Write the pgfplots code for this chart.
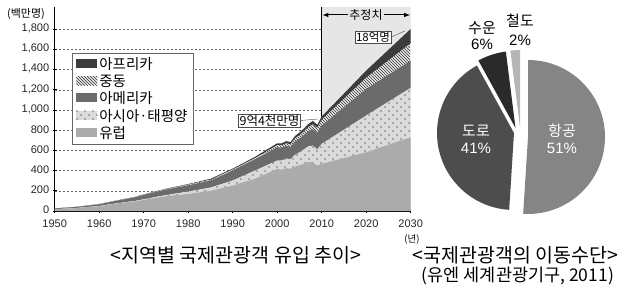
\documentclass[border=0pt]{standalone}
\usepackage{fontspec}
\setmainfont{Liberation Sans}
\newfontfamily\kr{Noto Sans CJK KR}
\usepackage{pgfplots}
\usepackage{pgfplotstable}
\pgfplotsset{compat=1.18}
\usetikzlibrary{patterns}

\pgfdeclarepatternformonly{sparsedots}{\pgfqpoint{-1pt}{-1pt}}{\pgfqpoint{9pt}{9pt}}{\pgfqpoint{8pt}{8pt}}{%
  \pgfpathcircle{\pgfqpoint{1pt}{1pt}}{0.6pt}%
  \pgfpathcircle{\pgfqpoint{5pt}{5pt}}{0.6pt}%
  \pgfusepath{fill}}

\definecolor{eu}{HTML}{ABABAB}
\definecolor{ap}{HTML}{DADADA}
\definecolor{am}{HTML}{6B6B6B}
\definecolor{me}{HTML}{E8E8E8}
\definecolor{af}{HTML}{3C3C3C}
\definecolor{est}{HTML}{E6E6E6}
\definecolor{air}{HTML}{858585}
\definecolor{road}{HTML}{4D4D4D}
\definecolor{sea}{HTML}{2A2A2A}
\definecolor{rail}{HTML}{B5B5B5}

\pgfplotstableread{
year eu ap am me af
1950 17 1 7 0.5 0.5
1955 29 1 11 0.5 0.5
1960 48 2 17 1 1
1965 80 3 28 1 2
1968 95 4 36 2 2
1970 110 6 44 2 3
1975 148 10 55 4 4
1980 170 22 62 7 6
1985 200 32 70 8 9
1990 252 50 99 9 10
1995 320 80 110 12 14
2000 418 82 132 20 19
2001 410 90 128 22 20
2002 425 95 125 25 22
2003 420 92 122 26 23
2004 440 115 133 30 25
2005 455 125 138 32 27
2006 470 140 142 36 29
2007 485 155 150 40 31
2008 483 165 163 48 34
2009 450 160 163 48 33
2010 467 198 181 57 33
2020 582 364 264 109 72
2030 731 489 270 171 143
}\datatable

\begin{document}
\begin{tikzpicture}
\begin{axis}[
  set layers,
  at={(54.7pt,81pt)}, anchor=south west,
  scale only axis, width=356pt, height=203.9pt,
  xmin=1950, xmax=2030, ymin=0, ymax=2020,
  axis x line*=bottom, axis y line*=left,
  axis line style={-, line width=1.2pt},
  xtick={1950,1960,...,2030}, ytick={0,200,...,1800},
  xticklabel style={/pgf/number format/1000 sep={}, yshift=-3pt},
  yticklabel style={/pgf/number format/1000 sep={,}, yshift=1pt},
  /pgf/number format/assume math mode=true,
  tick label style={font=\fontsize{11}{13}\selectfont, text=black!85},
  ymajorgrids, grid style={dash pattern=on 2pt off 2pt, black!60, line width=0.6pt},
  tick style={black, line width=0.8pt}, major tick length=4pt, tick align=center,
  stack plots=y,
  reverse legend,
  legend cell align=left,
  legend style={at={(0.049,0.775)}, anchor=north west, draw=black!60, fill=white,
    font=\kr\fontsize{14.5}{15.5}\selectfont, row sep=0pt, inner xsep=4pt, inner ysep=2pt},
  legend image code/.code={\draw[#1, draw=none] (0pt,-4pt) rectangle (21pt,5pt);},
]
\addplot[fill=eu, draw=none] table[x=year,y=eu]{\datatable} \closedcycle;
\addlegendentry{유럽}
\addplot[fill=ap, draw=none, postaction={pattern=sparsedots}] table[x=year,y=ap]{\datatable} \closedcycle;
\addlegendentry{아시아·태평양}
\addplot[fill=am, draw=none] table[x=year,y=am]{\datatable} \closedcycle;
\addlegendentry{아메리카}
\addplot[fill=me, draw=none, postaction={pattern=north west lines, pattern color=black!80}] table[x=year,y=me]{\datatable} \closedcycle;
\addlegendentry{중동}
\addplot[fill=af, draw=none] table[x=year,y=af]{\datatable} \closedcycle;
\addlegendentry{아프리카}
\fill[on layer=axis background, est] (axis cs:2010,0) rectangle (axis cs:2030,2020);
\draw[black, line width=0.8pt] (axis cs:2010,0) -- (axis cs:2010,2020);
\end{axis}
\begin{scope}[x=1pt,y=1pt]
% annotations
\node[font=\kr\fontsize{12}{14}\selectfont] at (366,277) {추정치};
\draw[-latex, line width=1pt] (348,277) -- (322.5,277);
\draw[-latex, line width=1pt] (384,277) -- (410,277);
\node[draw=black!70, fill=white, inner sep=1pt, font=\kr\fontsize{11.5}{13}\selectfont] (a) at (373,255) {18억명};
\draw[black!70] (a.east) -- (405,261);
\node[draw=black!70, fill=white, inner sep=1pt, font=\kr\fontsize{12.5}{14}\selectfont] (b) at (269.5,171.5) {9억4천만명};
\draw[black!70] (b.east) -- (318,173);
\node[font=\kr\fontsize{11}{13}\selectfont] at (26,278) {(백만명)};
\node[font=\kr\fontsize{9.5}{11}\selectfont] at (412,52) {(년)};
% pie
\def\R{77}
\fill[air]  (528,155) -- ++(90:\R) arc[start angle=90, end angle=-93.6, radius=\R] -- cycle;
\fill[road] (514,159) -- ++(-93.6:\R) arc[start angle=-93.6, end angle=-241.2, radius=\R] -- cycle;
\fill[sea]  (515.5,164) -- ++(-241.2:\R) arc[start angle=-241.2, end angle=-262.8, radius=\R] -- cycle;
\fill[rail] (520,165) -- ++(-262.8:\R) arc[start angle=-262.8, end angle=-270, radius=\R] -- cycle;
\node[white, font=\kr\fontsize{15}{17}\selectfont] at (562,161) {항공};
\node[white, font=\fontsize{15}{17}\selectfont] at (562,144) {51\%};
\node[white, font=\kr\fontsize{15}{17}\selectfont] at (476,161) {도로};
\node[white, font=\fontsize{15}{17}\selectfont] at (476,144) {41\%};
\node[font=\kr\fontsize{15}{17}\selectfont] at (482,264) {수운};
\node[font=\fontsize{15}{17}\selectfont] at (482,248) {6\%};
\node[font=\kr\fontsize{15}{17}\selectfont] at (520,271) {철도};
\node[font=\fontsize{15}{17}\selectfont] at (520,252) {2\%};
% captions
\node[font=\kr\fontsize{19.5}{22}\selectfont] at (236,37) {<지역별 국제관광객 유입 추이>};
\node[font=\kr\fontsize{19.5}{22}\selectfont] at (515.5,37) {<국제관광객의 이동수단>};
\node[font=\kr\fontsize{17.5}{20}\selectfont, anchor=east] at (617.5,16) {(유엔 세계관광기구, 2011)};
\end{scope}
\pgfresetboundingbox
\path[use as bounding box] (0,0) rectangle (618pt,292pt);
\end{tikzpicture}
\end{document}
